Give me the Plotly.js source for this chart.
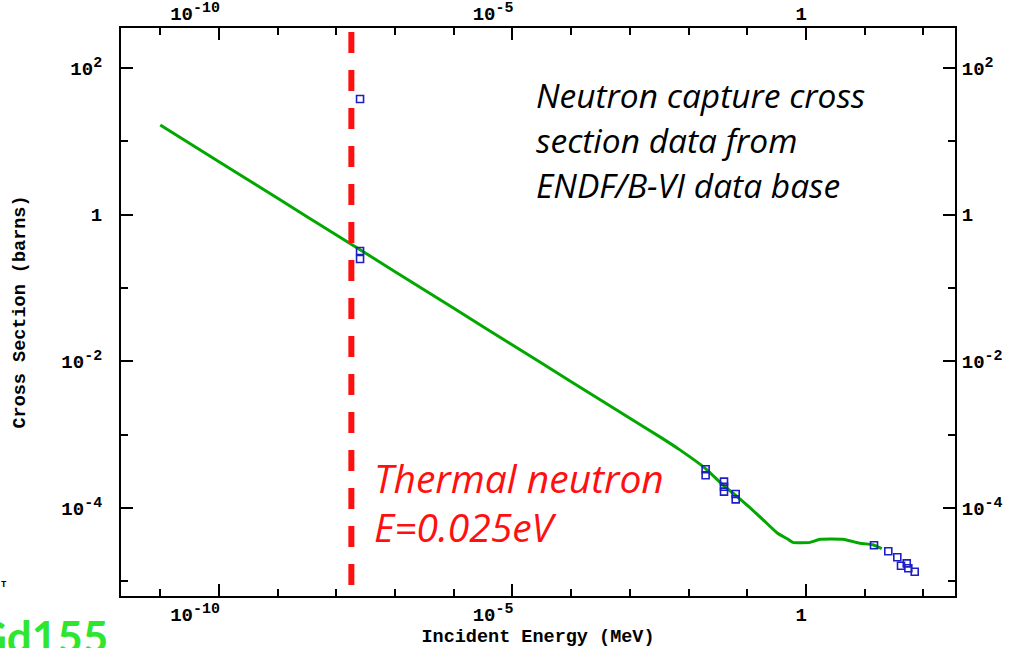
<!DOCTYPE html>
<html><head><meta charset="utf-8">
<script src="https://cdn.plot.ly/plotly-3.0.1.min.js"></script>
<style>html,body{margin:0;padding:0;background:#fff;overflow:hidden}</style>
</head><body><div id="chart" style="width:1019px;height:648px"></div>
<script>
// Evaluated (ENDF/B-VI) capture cross section, MeV vs barns
const evalEnergy = [1e-11, 1e-10, 1e-9, 1e-8, 1e-7, 1e-6, 1e-5, 1e-4, 1e-3, 3.2e-3, 7.1e-3,
  0.019, 0.039, 0.062, 0.112, 0.186, 0.324, 0.479, 0.60, 1.17, 1.74, 4.27, 8.3, 13.8, 19.5];
const evalXS = [16.7, 5.28, 1.67, 0.528, 0.167, 0.0528, 0.0167, 0.00528, 0.00167, 9.4e-4, 6.2e-4,
  3.5e-4, 2.04e-4, 1.51e-4, 1.0e-4, 6.9e-5, 4.57e-5, 3.8e-5, 3.4e-5, 3.4e-5, 3.75e-5, 3.75e-5, 3.3e-5, 3.16e-5, 2.8e-5];
// Experimental points
const expEnergy = [2.53e-8, 2.53e-8, 2.53e-8, 0.0195, 0.0195, 0.0401, 0.0401, 0.0401, 0.0634, 0.0634,
  14.4, 25.2, 35.9, 41.5, 52.0, 55.3, 71.1];
const expXS = [37.8, 0.319, 0.248, 3.37e-4, 2.79e-4, 2.29e-4, 1.95e-4, 1.67e-4, 1.55e-4, 1.31e-4,
  3.10e-5, 2.57e-5, 2.13e-5, 1.63e-5, 1.76e-5, 1.51e-5, 1.35e-5];
// Thermal neutron marker
const thermalEnergy = [1.8e-8, 1.8e-8];
const thermalSpan = [3.1e2, 8.7e-6];
// Ticks
const xTickVals = [1e-10, 1e-5, 1];
const xTickText = ['10<sup><span style="font-size:15px">-10</span></sup>', '10<sup><span style="font-size:15px">-5</span></sup>', '1'];
const xMinorVals = [1e-11, 1e-10, 1e-9, 1e-8, 1e-7, 1e-6, 1e-5, 1e-4, 1e-3, 1e-2, 1e-1, 1, 1e1, 1e2];
const yTickVals = [1e2, 1, 1e-2, 1e-4];
const yTickText = ['10<sup><span style="font-size:15px">2</span></sup>', '1', '10<sup><span style="font-size:15px">-2</span></sup>', '10<sup><span style="font-size:15px">-4</span></sup>'];
const yMinorVals = [1e2, 1e1, 1, 1e-1, 1e-2, 1e-3, 1e-4, 1e-5];

const monoFamily = 'Liberation Mono, DejaVu Sans Mono, monospace';
function tickFont() { return {family: monoFamily, size: 19, color: '#000', weight: 'bold'}; }
const xRange = [-11.669, 2.538];
const yRange = [-5.2, 2.545];

function xAxisCfg(extra) {
  return Object.assign({
    type: 'log', range: xRange, showgrid: false, zeroline: false,
    showline: true, linecolor: '#000', linewidth: 2,
    ticks: 'inside', ticklen: 12, tickwidth: 2, tickcolor: '#000',
    tickmode: 'array', tickvals: xTickVals, ticktext: xTickText,
    ticklabelposition: 'outside left', ticklabelshift: 3, tickfont: tickFont(), ticklabelstandoff: 0,
    minor: {tickmode: 'array', tickvals: xMinorVals, ticks: 'inside', ticklen: 7, tickwidth: 2, tickcolor: '#000', showgrid: false}
  }, extra);
}
function yAxisCfg(extra) {
  return Object.assign({
    type: 'log', range: yRange, showgrid: false, zeroline: false,
    showline: true, linecolor: '#000', linewidth: 2,
    ticks: 'inside', ticklen: 12, tickwidth: 2, tickcolor: '#000',
    tickmode: 'array', tickvals: yTickVals, ticktext: yTickText,
    tickfont: tickFont(),
    minor: {tickmode: 'array', tickvals: yMinorVals, ticks: 'inside', ticklen: 7, tickwidth: 2, tickcolor: '#000', showgrid: false}
  }, extra);
}

const traces = [
  {x: evalEnergy, y: evalXS, mode: 'lines', line: {color: '#00a800', width: 3, shape: 'spline', smoothing: 0.5}, showlegend: false, hoverinfo: 'skip'},
  {x: thermalEnergy, y: thermalSpan, mode: 'lines', line: {color: '#ff1010', width: 6, dash: '21px,17px'}, showlegend: false, hoverinfo: 'skip'},
  {x: expEnergy, y: expXS, mode: 'markers', marker: {symbol: 'square-open', size: 7, color: '#1e1ec8', line: {width: 1.6, color: '#1e1ec8'}}, showlegend: false, hoverinfo: 'skip'},
  {x: [evalEnergy[0]], y: [evalXS[0]], xaxis: 'x2', yaxis: 'y2', mode: 'markers', marker: {opacity: 0}, showlegend: false, hoverinfo: 'skip'}
];

const blackFont = {family: 'Open Sans, Lato, sans-serif', size: 33.5, color: '#000', style: 'italic'};
const redFont = {family: 'Open Sans, Lato, sans-serif', size: 39, color: '#ff1010', style: 'italic'};
const titleFont = {family: monoFamily, size: 18.5, color: '#000', weight: 'bold'};

const layout = {
  width: 1019, height: 648,
  margin: {l: 121, r: 64, t: 28, b: 52, pad: 0},
  paper_bgcolor: '#fff', plot_bgcolor: '#fff',
  showlegend: false,
  xaxis: xAxisCfg({title: {text: 'Incident Energy (MeV)', font: titleFont, standoff: 2}}),
  yaxis: yAxisCfg({ticklabelstandoff: 13, title: {text: 'Cross Section (barns)', font: titleFont, standoff: 31}}),
  xaxis2: xAxisCfg({overlaying: 'x', side: 'top', anchor: 'y2', ticklabelstandoff: -2}),
  yaxis2: yAxisCfg({overlaying: 'y', side: 'right', anchor: 'x2', ticklabelstandoff: 1}),
  annotations: [
    {xref: 'paper', yref: 'paper', x: 0.4952, y: 0.8825, xanchor: 'left', yanchor: 'middle', showarrow: false, text: 'Neutron capture cross', font: blackFont},
    {xref: 'paper', yref: 'paper', x: 0.4952, y: 0.8033, xanchor: 'left', yanchor: 'middle', showarrow: false, text: 'section data from', font: blackFont},
    {xref: 'paper', yref: 'paper', x: 0.4952, y: 0.7235, xanchor: 'left', yanchor: 'middle', showarrow: false, text: 'ENDF/B-VI data base', font: blackFont},
    {xref: 'paper', yref: 'paper', x: 0.301, y: 0.209, xanchor: 'left', yanchor: 'middle', showarrow: false, text: 'Thermal neutron', font: redFont},
    {xref: 'paper', yref: 'paper', x: 0.301, y: 0.1225, xanchor: 'left', yanchor: 'middle', showarrow: false, text: 'E=0.025eV', font: redFont},
    {xref: 'paper', yref: 'paper', x: -0.0132, y: -0.071, xanchor: 'right', yanchor: 'middle', showarrow: false, text: 'Gd155', font: {family: 'Lato, Open Sans, sans-serif', size: 44, color: '#2ee62e', weight: 'bold'}},
    {xref: 'paper', yref: 'paper', x: -0.1403, y: 0.0194, xanchor: 'center', yanchor: 'middle', showarrow: false, text: 'T', font: {family: monoFamily, size: 9, color: '#000', weight: 'bold'}}
  ]
};

Plotly.newPlot('chart', traces, layout, {staticPlot: true, displayModeBar: false});
</script></body></html>
